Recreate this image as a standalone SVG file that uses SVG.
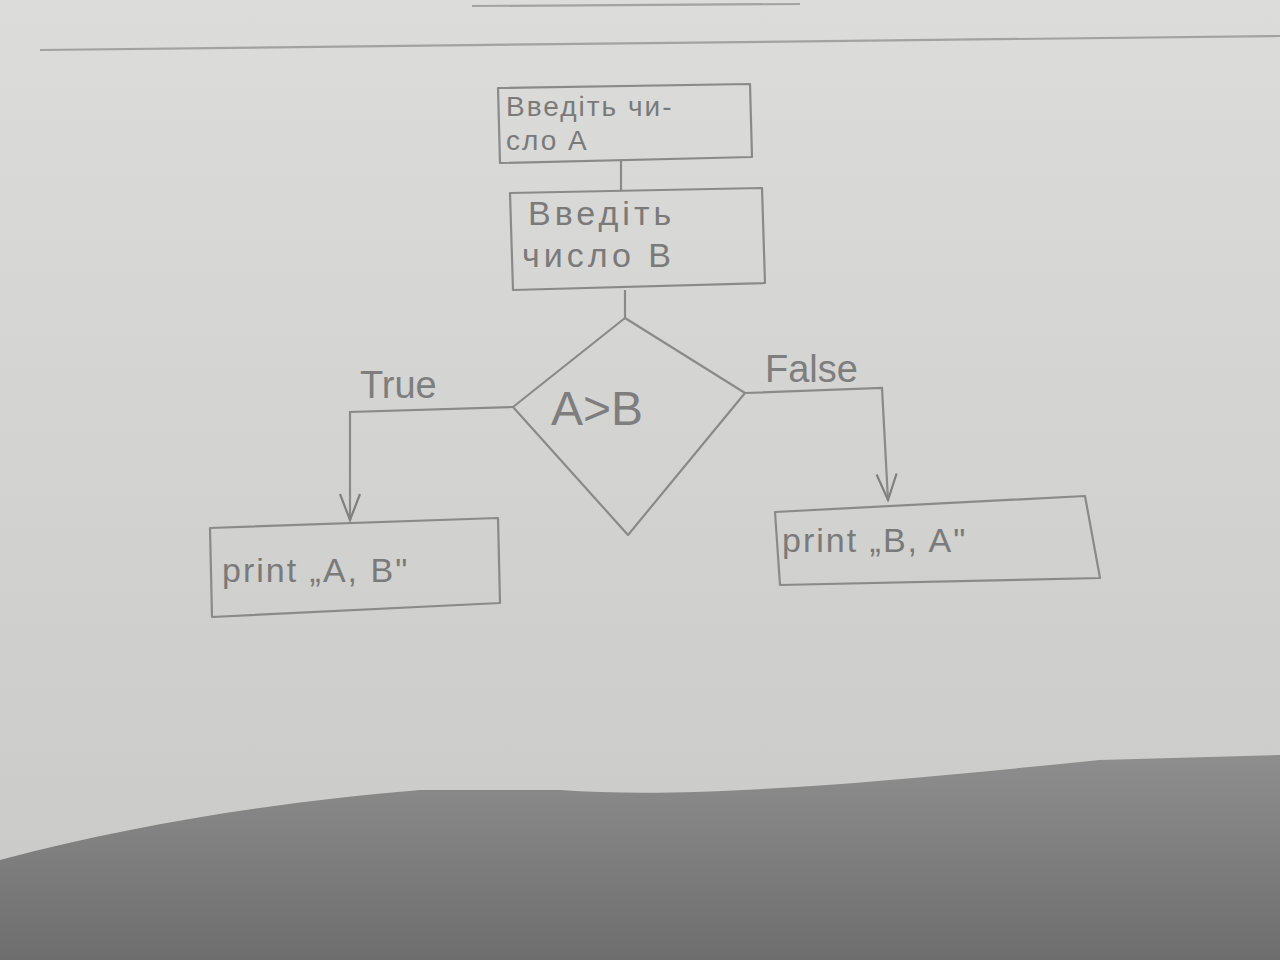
<svg xmlns="http://www.w3.org/2000/svg" width="1280" height="960" viewBox="0 0 1280 960">
  <defs>
    <marker id="arr" viewBox="0 0 30 24" refX="28" refY="12" markerWidth="30" markerHeight="24" markerUnits="userSpaceOnUse" orient="auto">
      <path d="M2,2 L28,12 L2,22" fill="none" stroke="#808080" stroke-width="2.2"/>
    </marker>
    <linearGradient id="paper" x1="0" y1="0" x2="0" y2="1">
      <stop offset="0" stop-color="#dcdcda"/>
      <stop offset="1" stop-color="#c9c9c7"/>
    </linearGradient>
    <linearGradient id="shade" x1="0" y1="0" x2="0" y2="1">
      <stop offset="0" stop-color="#8e8e8e"/>
      <stop offset="1" stop-color="#6e6e6e"/>
    </linearGradient>
  </defs>
  <style>
    .shape { fill: none; stroke: #8a8a8a; stroke-width: 2.2; stroke-linejoin: round; }
    .line { fill: none; stroke: #8a8a8a; stroke-width: 2.2; }
    .txt { font-family: "Liberation Sans", "DejaVu Sans", sans-serif; fill: #7a7a7a; font-size: 28px; letter-spacing: 2px; }
    .big { font-size: 34px; letter-spacing: 4px; }
    .pr { font-size: 34px; letter-spacing: 2px; }
    .lbl { font-family: "Liberation Sans", "DejaVu Sans", sans-serif; fill: #7e7e7e; font-size: 38px; }
    .cond { font-size: 48px; }
  </style>
  <rect x="0" y="0" width="1280" height="960" fill="url(#paper)"/>
  <path d="M0,960 L0,860 C150,820 300,800 420,790 L560,790 C700,800 900,780 1100,760 L1280,755 L1280,960 Z" fill="url(#shade)"/>
  <path d="M40,50 L1280,36" class="line" stroke-width="1.6" opacity="0.7"/>
  <path d="M472,6 L800,4" class="line" stroke-width="1.6" opacity="0.7"/>

  <g id="connectors">
    <path d="M621,160 L621,190" class="line"/>
    <path d="M625,290 L625,318" class="line"/>
    <path d="M513,407 L350,412 L350,520" class="line" marker-end="url(#arr)"/>
    <path d="M745,393 L882,388 L888,500" class="line" marker-end="url(#arr)"/>
    <text x="360" y="398" class="lbl">True</text>
    <text x="765" y="382" class="lbl">False</text>
  </g>

  <g id="inputA">
    <path d="M498,88 L750,84 L752,157 L500,163 Z" class="shape"/>
    <text x="506" y="116" class="txt">Введіть чи-</text>
    <text x="506" y="150" class="txt">сло A</text>
  </g>

  <g id="inputB">
    <path d="M510,193 L762,188 L765,283 L513,290 Z" class="shape"/>
    <text x="528" y="225" class="txt big">Введіть</text>
    <text x="522" y="267" class="txt big">число B</text>
  </g>

  <g id="decision">
    <path d="M625,318 L745,393 L628,535 L513,407 Z" class="shape"/>
    <text x="551" y="425" class="lbl cond">A&gt;B</text>
  </g>

  <g id="printAB">
    <path d="M210,528 L498,518 L500,603 L212,617 Z" class="shape"/>
    <text x="222" y="582" class="txt pr">print „A, B"</text>
  </g>

  <g id="printBA">
    <path d="M775,512 L1085,496 L1100,578 L780,585 Z" class="shape"/>
    <text x="782" y="552" class="txt pr">print „B, A"</text>
  </g>
</svg>
